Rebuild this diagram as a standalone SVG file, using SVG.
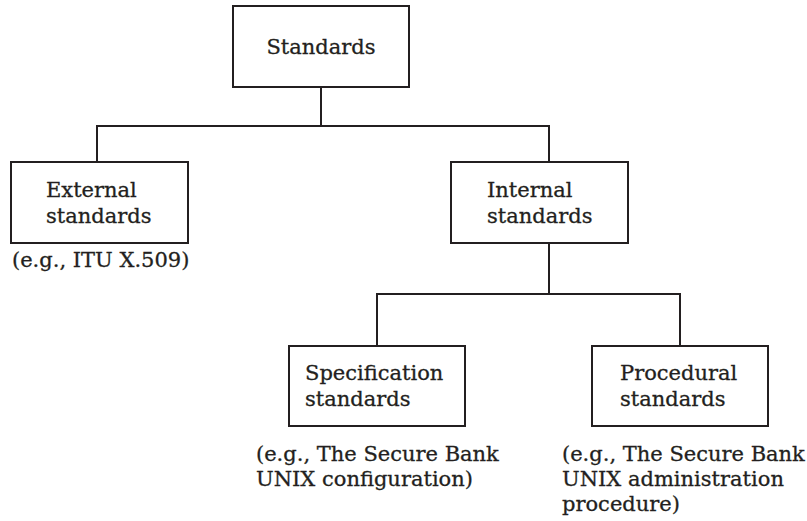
<svg xmlns="http://www.w3.org/2000/svg" width="807" height="521" viewBox="0 0 807 521">
  <style>
    .box { fill: #ffffff; stroke: #231f20; stroke-width: 2; }
    .wire { fill: none; stroke: #231f20; stroke-width: 2; }
    text { font-family: "DejaVu Serif", "Liberation Serif", serif; font-size: 21px; fill: #231f20; stroke: #231f20; stroke-width: 0.3; }
    .mid { text-anchor: middle; }
  </style>
  <rect width="807" height="521" fill="#ffffff"/>

  <!-- tree connectors -->
  <g id="connectors">
    <path class="wire" d="M321 87 V126 M97 162 V126 H549 V162"/>
    <path class="wire" d="M549 243 V294 M377 346 V294 H680 V346"/>
  </g>

  <g id="standards">
    <rect class="box" x="233" y="6" width="176" height="81"/>
    <text class="mid" x="321" y="54">Standards</text>
  </g>

  <g id="external">
    <rect class="box" x="11" y="162" width="177" height="81"/>
    <text x="46" y="197">External</text>
    <text x="46" y="223">standards</text>
    <text x="12" y="267">(e.g., ITU X.509)</text>
  </g>

  <g id="internal">
    <rect class="box" x="451" y="162" width="177" height="81"/>
    <text x="487" y="197">Internal</text>
    <text x="487" y="223">standards</text>
  </g>

  <g id="specification">
    <rect class="box" x="289" y="346" width="176" height="80"/>
    <text x="305" y="380">Specification</text>
    <text x="305" y="406">standards</text>
    <text x="256" y="461">(e.g., The Secure Bank</text>
    <text x="256" y="486">UNIX configuration)</text>
  </g>

  <g id="procedural">
    <rect class="box" x="592" y="346" width="176" height="80"/>
    <text x="620" y="380">Procedural</text>
    <text x="620" y="406">standards</text>
    <text x="562" y="461">(e.g., The Secure Bank</text>
    <text x="562" y="486">UNIX administration</text>
    <text x="562" y="511">procedure)</text>
  </g>
</svg>
